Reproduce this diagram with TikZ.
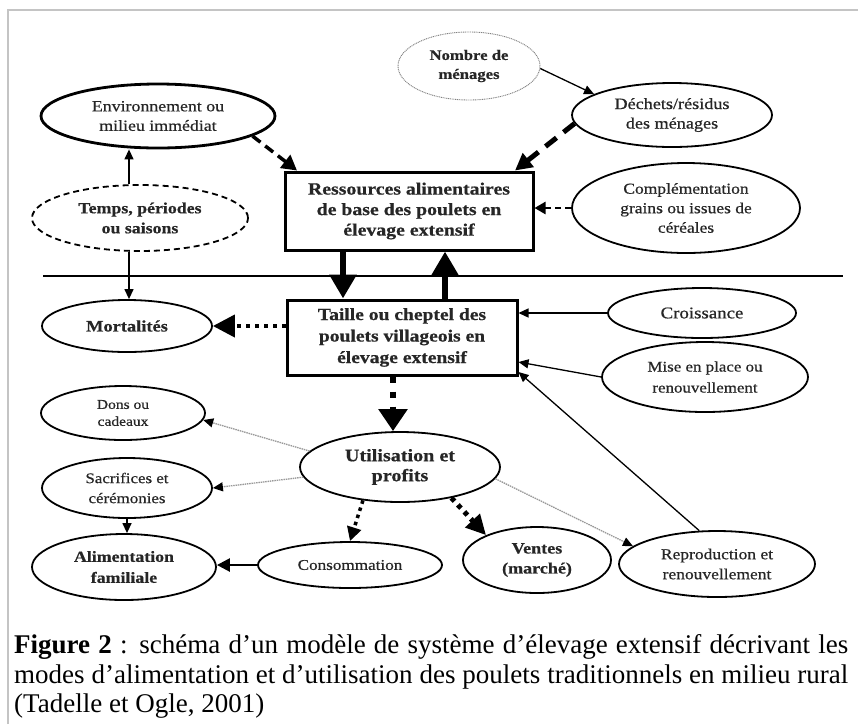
\documentclass[tikz,border=0pt]{standalone}
\usepackage{fontspec}
\setmainfont{Liberation Serif}
\newfontfamily\dfont[FakeStretch=1.15,FakeBold=0.6]{Liberation Serif}
\usetikzlibrary{arrows.meta,shapes.geometric}
\definecolor{txt}{HTML}{262626}
\definecolor{framegray}{HTML}{C4C4C4}
\begin{document}
\begin{tikzpicture}[x=1pt,y=-1pt,
  fs/.style 2 args={font=\dfont\fontsize{#1}{#2}\selectfont},
  fsb/.style 2 args={font=\dfont\bfseries\fontsize{#1}{#2}\selectfont},
  ell/.style={ellipse, draw=black, line width=1.8pt, inner sep=0pt, align=center, text=txt},
  boxn/.style={rectangle, draw=black, line width=3pt, inner sep=0pt, align=center, text=txt},
  tharr/.style={draw=black, line width=1.3pt, -{Triangle[length=10pt,width=9pt]}},
  grarr/.style={draw=gray!80, line width=1.3pt, dash pattern=on 1.5pt off 0.8pt, -{Triangle[length=10pt,width=9pt,color=black]}},
  bigarr/.style={draw=black, line width=6pt, -{Triangle[length=24pt,width=26pt]}},
  caption/.style={anchor=base west, inner sep=0pt, font=\fontsize{27}{29.5}\selectfont, text=black}
]
\useasboundingbox (0,0) rectangle (858,724);
\fill[white] (0,0) rectangle (858,724);
% frame
\draw[framegray, line width=2pt] (8,724) -- (8,10) -- (858,10);

% nodes
\node[ell, draw=gray, line width=0.9pt, dash pattern=on 1pt off 0.8pt, minimum width=142pt, minimum height=68pt, fsb={14.5}{19}] (nomb) at (469,66) {Nombre de\\ménages};
\node[ell, minimum width=200pt, minimum height=64pt, fs={15.8}{19.5}] (dech) at (672,115) {Déchets/résidus\\des ménages};
\node[ell, line width=2.8pt, minimum width=234pt, minimum height=64pt, fs={15.5}{19.5}] (env) at (158,116) {Environnement ou\\milieu immédiat};
\node[ell, line width=1.8pt, dash pattern=on 6pt off 4pt, minimum width=216pt, minimum height=66pt, fsb={15.5}{20}] (temps) at (140,218) {Temps, périodes\\ou saisons};
\node[boxn, minimum width=248pt, minimum height=78pt, fsb={17.2}{20.5}] (box1) at (409,211) {Ressources alimentaires\\de base des poulets en\\élevage extensif};
\node[ell, minimum width=228pt, minimum height=90pt, fs={15.2}{19.5}] (compl) at (686,208) {Complémentation\\grains ou issues de\\céréales};
\node[boxn, minimum width=230pt, minimum height=75pt, fsb={17}{21.5}] (box2) at (402,337.5) {Taille ou cheptel des\\poulets villageois en\\élevage extensif};
\node[ell, minimum width=170pt, minimum height=52pt, fsb={16}{19}] (mort) at (127,326) {Mortalités};
\node[ell, minimum width=188pt, minimum height=50pt, fs={16.4}{19}] (croi) at (702,313) {Croissance};
\node[ell, minimum width=206pt, minimum height=70pt, fs={14.7}{21}] (mise) at (705,377) {Mise en place ou\\renouvellement};
\node[ell, minimum width=164pt, minimum height=54pt, fs={13.5}{17}] (dons) at (123,413) {Dons ou\\cadeaux};
\node[ell, minimum width=200pt, minimum height=70pt, fsb={17.5}{20}] (util) at (400,467) {Utilisation et\\profits};
\node[ell, minimum width=170pt, minimum height=60pt, fs={14.7}{20}] (sacr) at (127,488) {Sacrifices et\\cérémonies};
\node[ell, minimum width=184pt, minimum height=66pt, fsb={15.5}{21}] (alim) at (124,567) {Alimentation\\familiale};
\node[ell, minimum width=184pt, minimum height=46pt, fs={14.9}{19}] (cons) at (350,565) {Consommation};
\node[ell, minimum width=148pt, minimum height=66pt, fsb={15.7}{20}] (vent) at (537,560) {Ventes\\(marché)};
\node[ell, minimum width=196pt, minimum height=66pt, fs={15.2}{20}] (repr) at (717,564) {Reproduction et\\renouvellement};

% separator line
\draw[line width=1.3pt] (43,276) -- (843,276);

% top connectors
\draw[tharr] (nomb.-2) -- (dech.165);
\draw[draw=black, line width=3.5pt, dash pattern=on 10pt off 6pt, -{Triangle[length=15pt,width=16pt]}] (env.-12) -- ([xshift=-112pt]box1.north);
\draw[draw=black, line width=5pt, dash pattern=on 14pt off 9pt, -{Triangle[length=17pt,width=17pt]}] (dech.185) -- ([xshift=106pt]box1.north);
\draw[draw=black, line width=2.5pt, dash pattern=on 6pt off 4pt, -{Triangle[length=11pt,width=12pt]}] (compl.west) -- (compl.west -| box1.east);
\draw[tharr] ([xshift=-11pt]temps.north) -- ([xshift=-11pt]temps.north |- env.south);
\draw[tharr] ([xshift=-11pt]temps.south) -- ([xshift=-11pt]temps.south |- mort.north);

% box arrows
\draw[bigarr] ([xshift=-66pt]box1.south) -- ([xshift=-59pt]box2.north);
\draw[bigarr] ([xshift=43pt]box2.north) -- ([xshift=36pt]box1.south);

% middle connectors
\draw[draw=black, line width=4pt, dash pattern=on 4pt off 5pt, -{Triangle[length=22pt,width=22pt]}] (mort.east -| box2.west) -- (mort.east);
\draw[tharr] (croi.west) -- (croi.west -| box2.east);
\draw[tharr] (mise.west) -- ([yshift=-24.5pt]box2.east);
\draw[tharr] (repr.118) -- ([yshift=-34.5pt]box2.east);
\draw[draw=black, line width=5.5pt, dash pattern=on 6pt off 9pt, -{Triangle[length=22pt,width=28pt]}] ([xshift=-9pt]box2.south) -- ([xshift=-9pt]box2.south |- util.north);

% lower connectors
\draw[grarr] (util.170) -- (dons.-5);
\draw[grarr] (util.186) -- (sacr.east);
\draw[grarr] (util.-7) -- (repr.168);
\draw[draw=black, line width=3.5pt, dash pattern=on 3.5pt off 4pt, -{Triangle[length=14pt,width=14pt]}] (util.222) -- (cons.north);
\draw[draw=black, line width=5pt, dash pattern=on 4.5pt off 5pt, -{Triangle[length=20pt,width=19pt]}] (util.-31) -- (vent.154);
\draw[tharr] (sacr.south) -- (sacr.south |- alim.north);
\draw[draw=black, line width=2.5pt, -{Triangle[length=13pt,width=13pt]}] (cons.west) -- (cons.west -| alim.east);

% caption
\node[caption] (cap1) at (14,653) {\makebox[834pt][s]{\textbf{Figure 2} : schéma d’un modèle de système d’élevage extensif décrivant les}};
\node[caption] (cap2) at (14,683) {\makebox[834pt][s]{modes d’alimentation et d’utilisation des poulets traditionnels en milieu rural}};
\node[caption] (cap3) at (14,712) {(Tadelle et Ogle, 2001)};
\end{tikzpicture}
\end{document}
